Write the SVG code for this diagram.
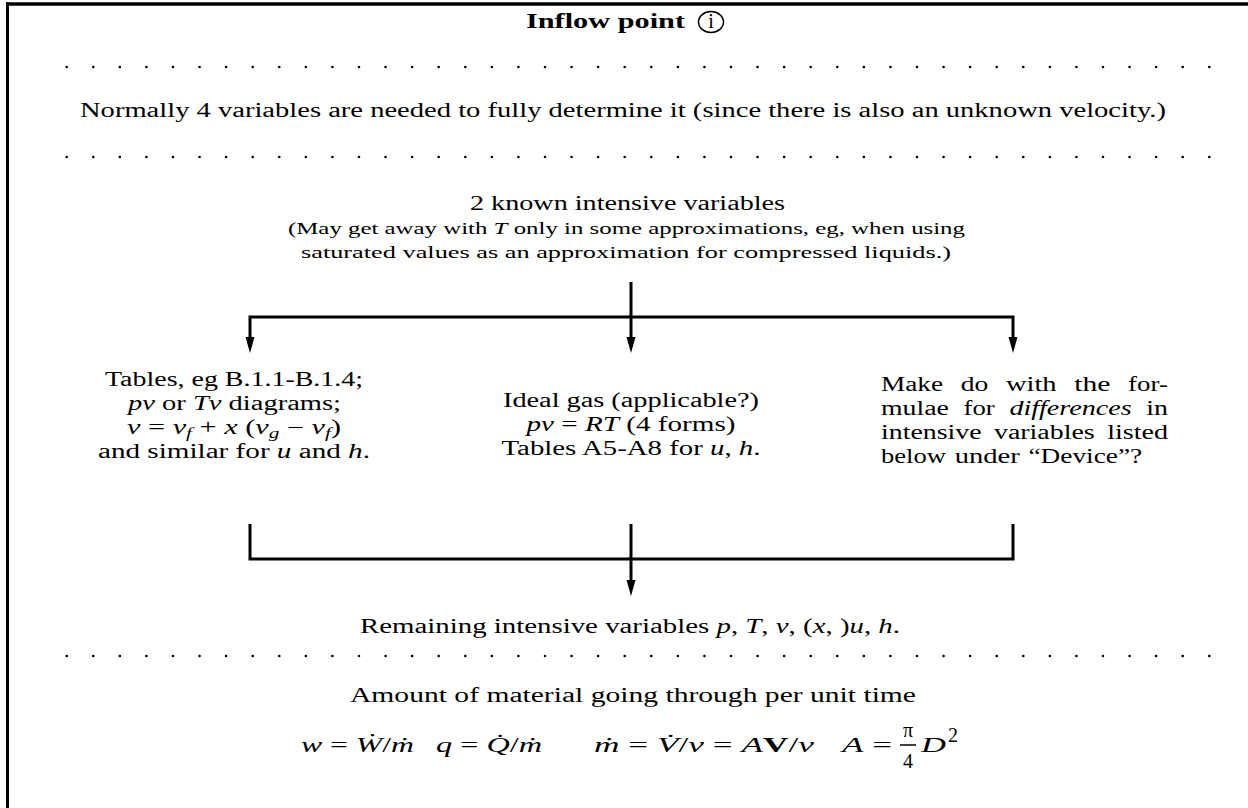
<svg xmlns="http://www.w3.org/2000/svg" width="1248" height="808" viewBox="0 0 1248 808">
<style>
text { font-family: "Liberation Serif", "Times New Roman", serif; fill: #000; }
.n { font-size: 20px; }
.sm { font-size: 17.5px; }
.i { font-style: italic; }
.b { font-weight: bold; }
.sub { font-size: 14px; }
.conn { fill: none; stroke: #000; stroke-width: 3; stroke-linejoin: miter; }
.dots { stroke: #000; stroke-width: 2.6; stroke-linecap: round; stroke-dasharray: 0 26.572; fill: none; }
.frame { stroke: #000; fill: none; }
</style>
<defs>
<marker id="ah" markerUnits="userSpaceOnUse" viewBox="0 0 16 10" markerWidth="16" markerHeight="10" refX="2" refY="5" orient="auto">
<path d="M0,0.5 L16,5 L0,9.5 z" fill="#000"/>
</marker>
</defs>
<rect width="1248" height="808" fill="#fff"/>
<g id="frame">
<line class="frame" x1="6" y1="4" x2="1248" y2="4" stroke-width="3.5"/>
<line class="frame" x1="7.5" y1="2.3" x2="7.5" y2="808" stroke-width="3"/>
</g>
<g id="title">
<text class="n b" x="526" y="28" font-size="21" textLength="159" lengthAdjust="spacingAndGlyphs">Inflow point</text>
<ellipse cx="711" cy="22" rx="12.5" ry="10.5" fill="none" stroke="#000" stroke-width="1.5"/>
<text class="n" x="711" y="28" text-anchor="middle" font-size="17">i</text>
</g>
<g id="separators">
<line class="dots" x1="66.7" y1="67" x2="1209.3" y2="67"/>
<line class="dots" x1="66.7" y1="157" x2="1209.3" y2="157"/>
<line class="dots" x1="66.7" y1="656" x2="1209.3" y2="656"/>
</g>
<g id="note">
<text class="n" x="80" y="117" textLength="1086" lengthAdjust="spacingAndGlyphs">Normally 4 variables are needed to fully determine it (since there is also an unknown velocity.)</text>
</g>
<g id="known">
<text class="n" x="470" y="210" textLength="315" lengthAdjust="spacingAndGlyphs">2 known intensive variables</text>
<text class="sm" x="288" y="234" textLength="677" lengthAdjust="spacingAndGlyphs">(May get away with <tspan class="i">T</tspan> only in some approximations, eg, when using</text>
<text class="sm" x="301" y="258" textLength="650" lengthAdjust="spacingAndGlyphs">saturated values as an approximation for compressed liquids.)</text>
</g>
<g id="tables">
<text class="n" x="105" y="386" textLength="258" lengthAdjust="spacingAndGlyphs">Tables, eg B.1.1-B.1.4;</text>
<text class="n" x="128" y="410" textLength="213" lengthAdjust="spacingAndGlyphs"><tspan class="i">pv</tspan> or <tspan class="i">Tv</tspan> diagrams;</text>
<text class="n" x="127" y="434" textLength="214" lengthAdjust="spacingAndGlyphs"><tspan class="i">v</tspan> = <tspan class="i">v</tspan><tspan class="i sub" dy="4">f</tspan><tspan dy="-4"> + </tspan><tspan class="i">x</tspan> (<tspan class="i">v</tspan><tspan class="i sub" dy="4">g</tspan><tspan dy="-4"> − </tspan><tspan class="i">v</tspan><tspan class="i sub" dy="4">f</tspan><tspan dy="-4">)</tspan></text>
<text class="n" x="98" y="458" textLength="272" lengthAdjust="spacingAndGlyphs">and similar for <tspan class="i">u</tspan> and <tspan class="i">h</tspan>.</text>
</g>
<g id="idealgas">
<text class="n" x="503" y="407" textLength="256" lengthAdjust="spacingAndGlyphs">Ideal gas (applicable?)</text>
<text class="n" x="526.5" y="431" textLength="209" lengthAdjust="spacingAndGlyphs"><tspan class="i">pv</tspan> = <tspan class="i">RT</tspan> (4 forms)</text>
<text class="n" x="501.5" y="455" textLength="259" lengthAdjust="spacingAndGlyphs">Tables A5-A8 for <tspan class="i">u</tspan>, <tspan class="i">h</tspan>.</text>
</g>
<g id="differences">
<text class="n" x="881" y="391" textLength="62.1" lengthAdjust="spacingAndGlyphs">Make</text>
<text class="n" x="960.8" y="391" textLength="27.5" lengthAdjust="spacingAndGlyphs">do</text>
<text class="n" x="1006" y="391" textLength="50.6" lengthAdjust="spacingAndGlyphs">with</text>
<text class="n" x="1074.3" y="391" textLength="36.1" lengthAdjust="spacingAndGlyphs">the</text>
<text class="n" x="1128.1" y="391" textLength="39.8" lengthAdjust="spacingAndGlyphs">for-</text>
<text class="n" x="881" y="415" textLength="67.9" lengthAdjust="spacingAndGlyphs">mulae</text>
<text class="n" x="963.6" y="415" textLength="31.1" lengthAdjust="spacingAndGlyphs">for</text>
<text class="n i" x="1009.4" y="415" textLength="122.2" lengthAdjust="spacingAndGlyphs">differences</text>
<text class="n" x="1146.3" y="415" textLength="21.7" lengthAdjust="spacingAndGlyphs">in</text>
<text class="n" x="881" y="439" textLength="100.5" lengthAdjust="spacingAndGlyphs">intensive</text>
<text class="n" x="994" y="439" textLength="100.6" lengthAdjust="spacingAndGlyphs">variables</text>
<text class="n" x="1107.2" y="439" textLength="60.8" lengthAdjust="spacingAndGlyphs">listed</text>
<text class="n" x="881" y="463" textLength="65" lengthAdjust="spacingAndGlyphs">below</text>
<text class="n" x="954.7" y="463" textLength="65.1" lengthAdjust="spacingAndGlyphs">under</text>
<text class="n" x="1028.5" y="463" textLength="113.7" lengthAdjust="spacingAndGlyphs">“Device”?</text>
</g>
<g id="remaining">
<text class="n" x="360" y="633" textLength="540" lengthAdjust="spacingAndGlyphs">Remaining intensive variables <tspan class="i">p</tspan>, <tspan class="i">T</tspan>, <tspan class="i">v</tspan>, (<tspan class="i">x</tspan>, )<tspan class="i">u</tspan>, <tspan class="i">h</tspan>.</text>
</g>
<g id="amount">
<text class="n" x="350" y="702" textLength="566" lengthAdjust="spacingAndGlyphs">Amount of material going through per unit time</text>
<text class="n" x="301" y="752" textLength="113" lengthAdjust="spacingAndGlyphs"><tspan class="i">w</tspan> = <tspan class="i">Ẇ</tspan>/<tspan class="i">ṁ</tspan></text>
<text class="n" x="436" y="752" textLength="106" lengthAdjust="spacingAndGlyphs"><tspan class="i">q</tspan> = <tspan class="i">Q̇</tspan>/<tspan class="i">ṁ</tspan></text>
<text class="n" x="594" y="752" textLength="220" lengthAdjust="spacingAndGlyphs"><tspan class="i">ṁ</tspan> = <tspan class="i">V̇</tspan>/<tspan class="i">v</tspan> = <tspan class="i">A</tspan><tspan class="b">V</tspan>/<tspan class="i">v</tspan></text>
<text class="n" x="842" y="752" textLength="50" lengthAdjust="spacingAndGlyphs"><tspan class="i">A</tspan> =</text>
<text class="n" x="908" y="737" text-anchor="middle">π</text>
<line x1="900" y1="745" x2="916" y2="745" stroke="#000" stroke-width="1.5"/>
<text class="n" x="908" y="768" text-anchor="middle">4</text>
<text class="n i" x="921" y="752" textLength="25" lengthAdjust="spacingAndGlyphs">D</text>
<text class="n" x="948" y="742" font-size="14">2</text>
</g>
<g id="connectors">
<path class="conn" d="M631,282 V339" marker-end="url(#ah)"/>
<path class="conn" d="M631,317 H250 V339" marker-end="url(#ah)"/>
<path class="conn" d="M631,317 H1013 V339" marker-end="url(#ah)"/>
<path class="conn" d="M250,524 V559 H1013 V524"/>
<path class="conn" d="M631,524 V582" marker-end="url(#ah)"/>
</g>
</svg>
